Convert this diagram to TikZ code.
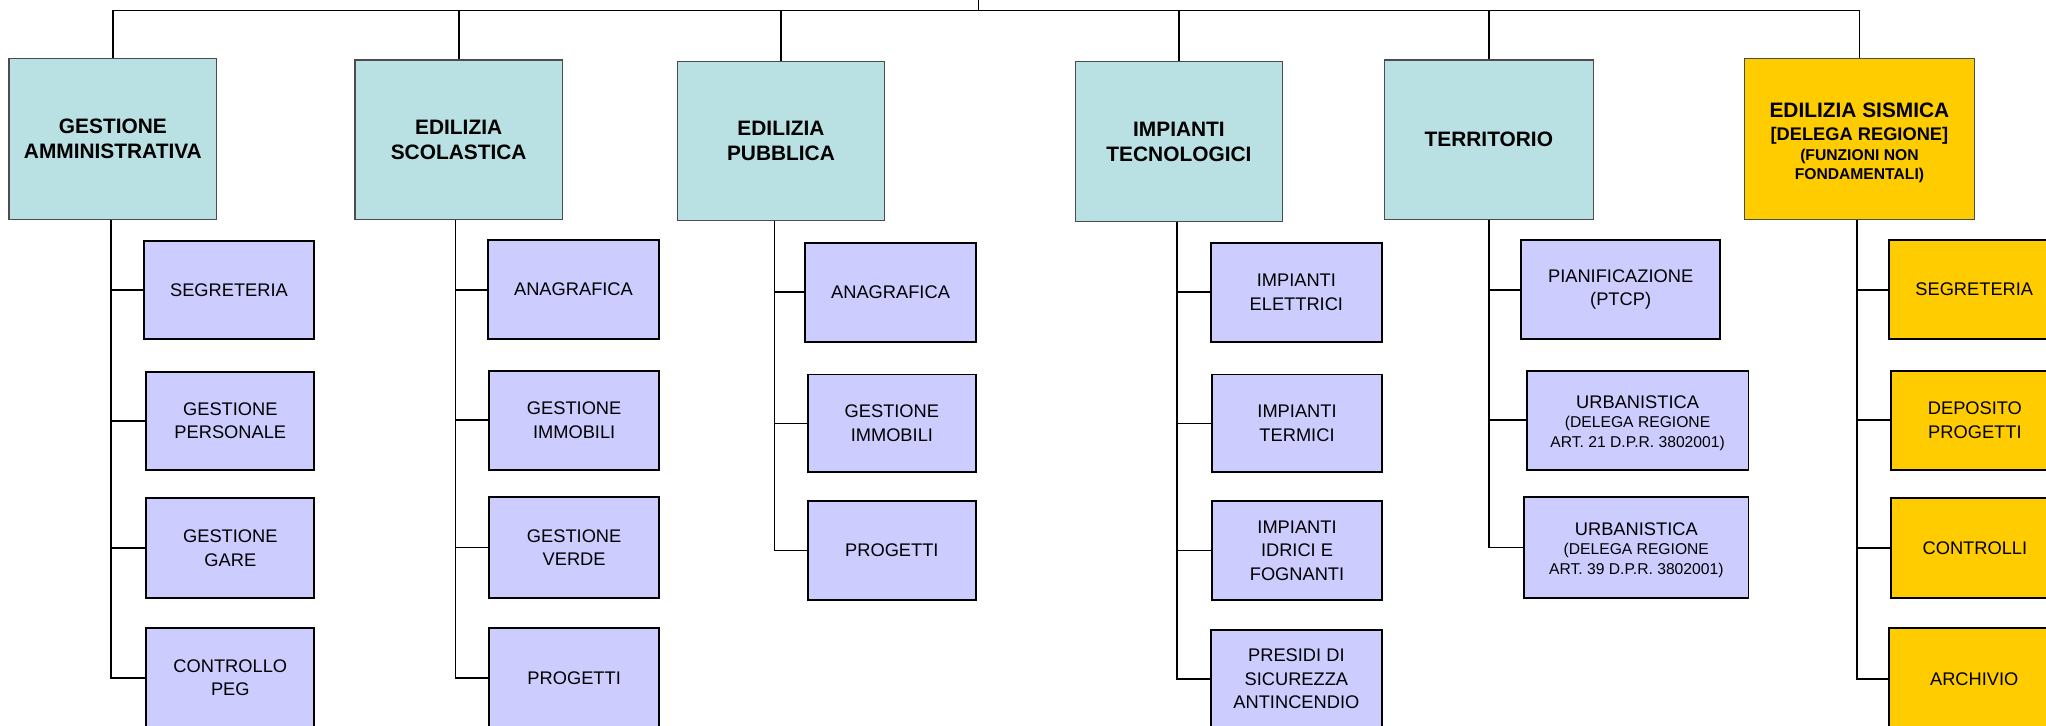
\documentclass[tikz,border=0pt]{standalone}
\usepackage{fontspec}
\setmainfont{Liberation Sans}
\definecolor{tealbox}{HTML}{B9E0E2}
\definecolor{lavbox}{HTML}{CCCCFF}
\definecolor{goldbox}{HTML}{FFCC00}
\tikzset{
  topbox/.style={draw=black!70, line width=1pt, fill=tealbox, inner sep=1pt, align=center,
    font=\fontsize{16}{19}\selectfont\bfseries},
  goldtop/.style={topbox, fill=goldbox},
  subbox/.style={draw=black, line width=1.5pt, fill=lavbox, inner sep=1pt, align=center,
    font=\fontsize{14}{18}\selectfont},
  goldsub/.style={subbox, fill=goldbox},
  conn/.style={draw=black, line width=1.3pt},
}
\newcommand{\obox}[7]{\node[#2, minimum width={(#5-#3)*1pt}, minimum height={(#6-#4)*1pt}] (#1) at ({(#3+#5)/2},{(#4+#6)/2}) {#7};}
\newcommand{\smalltxt}[1]{{\fontsize{12}{15.5}\selectfont #1}}
\begin{document}
\begin{tikzpicture}[x=1pt,y=-1pt]
\useasboundingbox (0,0) rectangle (1568,556);
\clip (0,0) rectangle (1568,556);
\fill[white] (0,0) rectangle (1568,556);
% top level
\obox{t1}{topbox}{7}{45}{166}{168}{GESTIONE\\AMMINISTRATIVA}
\obox{t2}{topbox}{272}{46}{431}{168}{EDILIZIA\\SCOLASTICA}
\obox{t3}{topbox}{519}{47}{678}{169}{EDILIZIA\\PUBBLICA}
\obox{t4}{topbox}{824}{47}{983}{170}{IMPIANTI\\TECNOLOGICI}
\obox{t5}{topbox}{1061}{46}{1221}{168}{TERRITORIO}
\obox{t6}{goldtop}{1337}{45}{1513}{168}{%
  \begin{tabular}{@{}c@{}}
  \rule{0pt}{21pt}{\fontsize{16}{18}\selectfont EDILIZIA SISMICA}\\[-2pt]
  {\fontsize{14}{16}\selectfont [DELEGA REGIONE]}\\[-3.5pt]
  {\fontsize{12}{14}\selectfont (FUNZIONI NON}\\[-4pt]
  {\fontsize{12}{14}\selectfont FONDAMENTALI)}
  \end{tabular}}
% column 1
\obox{a1}{subbox}{110}{185}{241}{260}{SEGRETERIA}
\obox{a2}{subbox}{112}{285}{241}{360}{GESTIONE\\PERSONALE}
\obox{a3}{subbox}{112}{382}{241}{458}{GESTIONE\\GARE}
\obox{a4}{subbox}{112}{481}{241}{558}{CONTROLLO\\PEG}
% column 2
\obox{b1}{subbox}{374}{184}{505}{260}{ANAGRAFICA}
\obox{b2}{subbox}{375}{284}{505}{360}{GESTIONE\\IMMOBILI}
\obox{b3}{subbox}{375}{381}{505}{458}{GESTIONE\\VERDE}
\obox{b4}{subbox}{375}{481}{505}{558}{PROGETTI}
% column 3
\obox{c1}{subbox}{617}{186}{748}{262}{ANAGRAFICA}
\obox{c2}{subbox}{619}{287}{748}{362}{GESTIONE\\IMMOBILI}
\obox{c3}{subbox}{619}{384}{748}{460}{PROGETTI}
% column 4
\obox{d1}{subbox}{928}{186}{1059}{262}{IMPIANTI\\ELETTRICI}
\obox{d2}{subbox}{929}{287}{1059}{362}{IMPIANTI\\TERMICI}
\obox{d3}{subbox}{929}{384}{1059}{460}{IMPIANTI\\IDRICI E\\FOGNANTI}
\obox{d4}{subbox}{928}{483}{1059}{558}{PRESIDI DI\\SICUREZZA\\ANTINCENDIO}
% column 5
\obox{e1}{subbox}{1166}{184}{1318}{260}{PIANIFICAZIONE\\(PTCP)}
\obox{e2}{subbox}{1170}{284}{1340}{360}{%
  \begin{tabular}{@{}c@{}}
  \rule{0pt}{17pt}URBANISTICA\\[-3pt]
  \smalltxt{(DELEGA REGIONE}\\[-3pt]
  \smalltxt{ART. 21 D.P.R. 3802001)}
  \end{tabular}}
\obox{e3}{subbox}{1168}{381}{1340}{458}{%
  \begin{tabular}{@{}c@{}}
  \rule{0pt}{17pt}URBANISTICA\\[-3pt]
  \smalltxt{(DELEGA REGIONE}\\[-3pt]
  \smalltxt{ART. 39 D.P.R. 3802001)}
  \end{tabular}}
% column 6
\obox{f1}{goldsub}{1448}{184}{1578}{260}{SEGRETERIA}
\obox{f2}{goldsub}{1449}{284}{1578}{360}{DEPOSITO\\PROGETTI}
\obox{f3}{goldsub}{1449}{382}{1578}{458}{CONTROLLI}
\obox{f4}{goldsub}{1448}{481}{1578}{560}{ARCHIVIO}
% bus
\coordinate (bus) at (0,8);
\coordinate (root) at (750,-3);
\draw[conn] (root) -- (root |- bus);
\draw[conn] ([xshift=-0.65pt]t1.north |- bus) -- ([xshift=0.65pt]t6.north |- bus);
\foreach \t in {t1,t2,t3,t4,t5,t6}
  \draw[conn] (\t.north) -- (\t.north |- bus);
% spines
\coordinate (s1) at ([xshift=-1.5pt]t1.south);
\coordinate (s2) at ([xshift=-2.5pt]t2.south);
\coordinate (s3) at ([xshift=-5pt]t3.south);
\coordinate (s4) at ([xshift=-1.5pt]t4.south);
\coordinate (s5) at ([xshift=-0pt]t5.south);
\coordinate (s6) at ([xshift=-2pt]t6.south);
\draw[conn] (s1) -- ([yshift=-0.65pt]s1 |- a4.west);
\draw[conn] (s2) -- ([yshift=-0.65pt]s2 |- b4.west);
\draw[conn] (s3) -- ([yshift=-0.65pt]s3 |- c3.west);
\draw[conn] (s4) -- ([yshift=-0.65pt]s4 |- d4.west);
\draw[conn] (s5) -- ([yshift=-0.65pt]s5 |- e3.west);
\draw[conn] (s6) -- ([yshift=-0.65pt]s6 |- f4.west);
\foreach \b in {a1,a2,a3,a4} \draw[conn] (\b.west) -- (\b.west -| s1);
\foreach \b in {b1,b2,b3,b4} \draw[conn] (\b.west) -- (\b.west -| s2);
\foreach \b in {c1,c2,c3} \draw[conn] (\b.west) -- (\b.west -| s3);
\foreach \b in {d1,d2,d3,d4} \draw[conn] (\b.west) -- (\b.west -| s4);
\foreach \b in {e1,e2,e3} \draw[conn] (\b.west) -- (\b.west -| s5);
\foreach \b in {f1,f2,f3,f4} \draw[conn] (\b.west) -- (\b.west -| s6);
\end{tikzpicture}
\end{document}
